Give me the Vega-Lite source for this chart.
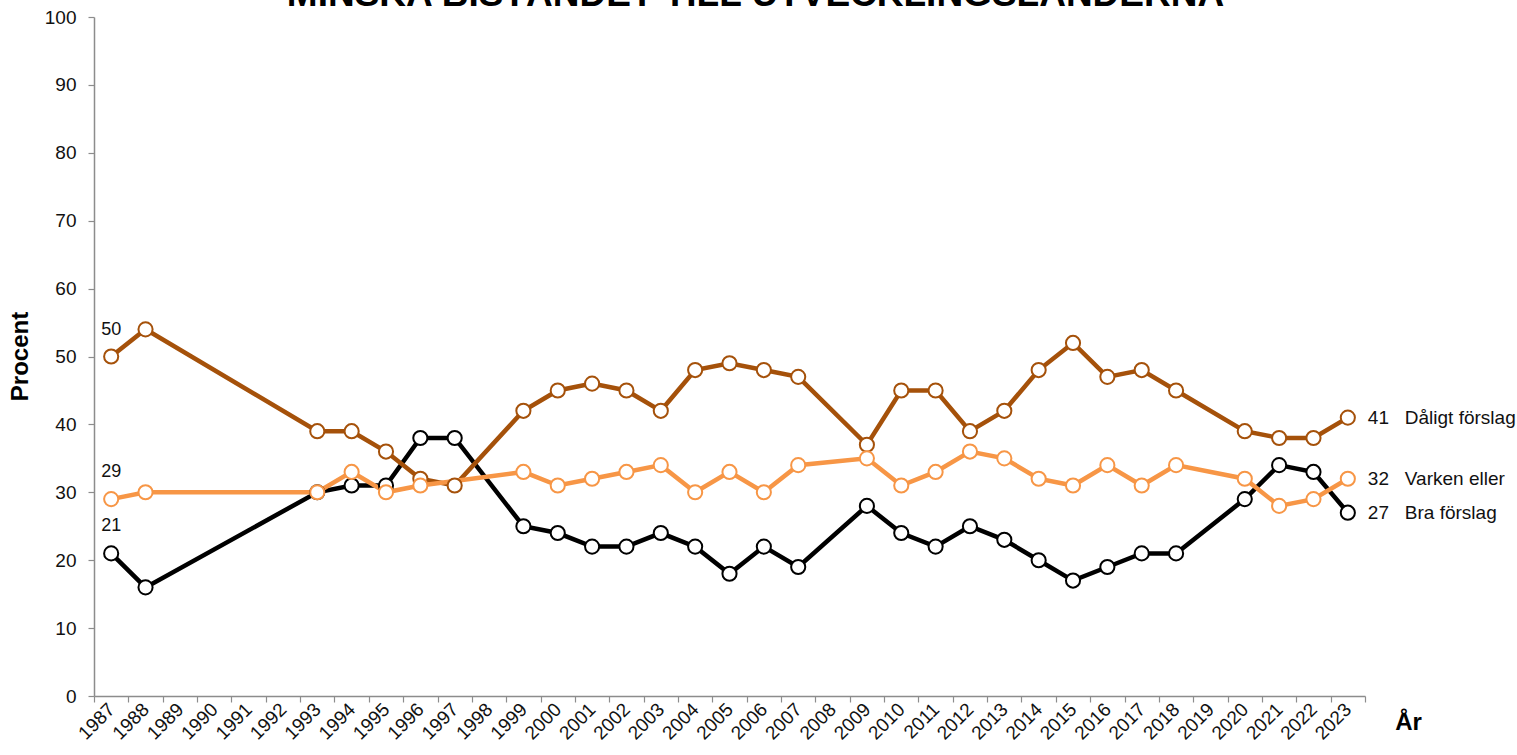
{
  "$schema": "https://vega.github.io/schema/vega-lite/v6.json",
  "width": 1271,
  "height": 679,
  "autosize": {"type": "none"},
  "padding": {"left": 94, "top": 17, "right": 152, "bottom": 59},
  "background": "white",
  "config": {
    "view": {"stroke": null},
    "font": "Liberation Sans",
    "axis": {"grid": false, "domainColor": "#8c8c8c", "tickColor": "#8c8c8c", "domainWidth": 1.5, "tickWidth": 1.2, "labelFont": "Liberation Sans", "titleFont": "Liberation Sans", "labelColor": "#111", "titleColor": "#000"}
  },
  "title": {
    "text": "MINSKA BISTÅNDET TILL UTVECKLINGSLÄNDERNA",
    "font": "Liberation Sans",
    "fontSize": 37,
    "fontWeight": "bold",
    "color": "#000",
    "anchor": "middle",
    "frame": "group",
    "baseline": "alphabetic",
    "offset": -35,
    "dx": 26
  },
  "datasets": {
    "main": [
      {"series": "Bra förslag", "year": 1987, "value": 21},
      {"series": "Bra förslag", "year": 1988, "value": 16},
      {"series": "Bra förslag", "year": 1993, "value": 30},
      {"series": "Bra förslag", "year": 1994, "value": 31},
      {"series": "Bra förslag", "year": 1995, "value": 31},
      {"series": "Bra förslag", "year": 1996, "value": 38},
      {"series": "Bra förslag", "year": 1997, "value": 38},
      {"series": "Bra förslag", "year": 1999, "value": 25},
      {"series": "Bra förslag", "year": 2000, "value": 24},
      {"series": "Bra förslag", "year": 2001, "value": 22},
      {"series": "Bra förslag", "year": 2002, "value": 22},
      {"series": "Bra förslag", "year": 2003, "value": 24},
      {"series": "Bra förslag", "year": 2004, "value": 22},
      {"series": "Bra förslag", "year": 2005, "value": 18},
      {"series": "Bra förslag", "year": 2006, "value": 22},
      {"series": "Bra förslag", "year": 2007, "value": 19},
      {"series": "Bra förslag", "year": 2009, "value": 28},
      {"series": "Bra förslag", "year": 2010, "value": 24},
      {"series": "Bra förslag", "year": 2011, "value": 22},
      {"series": "Bra förslag", "year": 2012, "value": 25},
      {"series": "Bra förslag", "year": 2013, "value": 23},
      {"series": "Bra förslag", "year": 2014, "value": 20},
      {"series": "Bra förslag", "year": 2015, "value": 17},
      {"series": "Bra förslag", "year": 2016, "value": 19},
      {"series": "Bra förslag", "year": 2017, "value": 21},
      {"series": "Bra förslag", "year": 2018, "value": 21},
      {"series": "Bra förslag", "year": 2020, "value": 29},
      {"series": "Bra förslag", "year": 2021, "value": 34},
      {"series": "Bra förslag", "year": 2022, "value": 33},
      {"series": "Bra förslag", "year": 2023, "value": 27},
      {"series": "Dåligt förslag", "year": 1987, "value": 50},
      {"series": "Dåligt förslag", "year": 1988, "value": 54},
      {"series": "Dåligt förslag", "year": 1993, "value": 39},
      {"series": "Dåligt förslag", "year": 1994, "value": 39},
      {"series": "Dåligt förslag", "year": 1995, "value": 36},
      {"series": "Dåligt förslag", "year": 1996, "value": 32},
      {"series": "Dåligt förslag", "year": 1997, "value": 31},
      {"series": "Dåligt förslag", "year": 1999, "value": 42},
      {"series": "Dåligt förslag", "year": 2000, "value": 45},
      {"series": "Dåligt förslag", "year": 2001, "value": 46},
      {"series": "Dåligt förslag", "year": 2002, "value": 45},
      {"series": "Dåligt förslag", "year": 2003, "value": 42},
      {"series": "Dåligt förslag", "year": 2004, "value": 48},
      {"series": "Dåligt förslag", "year": 2005, "value": 49},
      {"series": "Dåligt förslag", "year": 2006, "value": 48},
      {"series": "Dåligt förslag", "year": 2007, "value": 47},
      {"series": "Dåligt förslag", "year": 2009, "value": 37},
      {"series": "Dåligt förslag", "year": 2010, "value": 45},
      {"series": "Dåligt förslag", "year": 2011, "value": 45},
      {"series": "Dåligt förslag", "year": 2012, "value": 39},
      {"series": "Dåligt förslag", "year": 2013, "value": 42},
      {"series": "Dåligt förslag", "year": 2014, "value": 48},
      {"series": "Dåligt förslag", "year": 2015, "value": 52},
      {"series": "Dåligt förslag", "year": 2016, "value": 47},
      {"series": "Dåligt förslag", "year": 2017, "value": 48},
      {"series": "Dåligt förslag", "year": 2018, "value": 45},
      {"series": "Dåligt förslag", "year": 2020, "value": 39},
      {"series": "Dåligt förslag", "year": 2021, "value": 38},
      {"series": "Dåligt förslag", "year": 2022, "value": 38},
      {"series": "Dåligt förslag", "year": 2023, "value": 41},
      {"series": "Varken eller", "year": 1987, "value": 29},
      {"series": "Varken eller", "year": 1988, "value": 30},
      {"series": "Varken eller", "year": 1993, "value": 30},
      {"series": "Varken eller", "year": 1994, "value": 33},
      {"series": "Varken eller", "year": 1995, "value": 30},
      {"series": "Varken eller", "year": 1996, "value": 31},
      {"series": "Varken eller", "year": 1999, "value": 33},
      {"series": "Varken eller", "year": 2000, "value": 31},
      {"series": "Varken eller", "year": 2001, "value": 32},
      {"series": "Varken eller", "year": 2002, "value": 33},
      {"series": "Varken eller", "year": 2003, "value": 34},
      {"series": "Varken eller", "year": 2004, "value": 30},
      {"series": "Varken eller", "year": 2005, "value": 33},
      {"series": "Varken eller", "year": 2006, "value": 30},
      {"series": "Varken eller", "year": 2007, "value": 34},
      {"series": "Varken eller", "year": 2009, "value": 35},
      {"series": "Varken eller", "year": 2010, "value": 31},
      {"series": "Varken eller", "year": 2011, "value": 33},
      {"series": "Varken eller", "year": 2012, "value": 36},
      {"series": "Varken eller", "year": 2013, "value": 35},
      {"series": "Varken eller", "year": 2014, "value": 32},
      {"series": "Varken eller", "year": 2015, "value": 31},
      {"series": "Varken eller", "year": 2016, "value": 34},
      {"series": "Varken eller", "year": 2017, "value": 31},
      {"series": "Varken eller", "year": 2018, "value": 34},
      {"series": "Varken eller", "year": 2020, "value": 32},
      {"series": "Varken eller", "year": 2021, "value": 28},
      {"series": "Varken eller", "year": 2022, "value": 29},
      {"series": "Varken eller", "year": 2023, "value": 32}
    ]
  },
  "data": {"name": "main"},
  "encoding": {
    "x": {
      "field": "year",
      "type": "ordinal",
      "scale": {"type": "band", "paddingInner": 0, "paddingOuter": 0, "domain": [1987,1988,1989,1990,1991,1992,1993,1994,1995,1996,1997,1998,1999,2000,2001,2002,2003,2004,2005,2006,2007,2008,2009,2010,2011,2012,2013,2014,2015,2016,2017,2018,2019,2020,2021,2022,2023]},
      "axis": {
        "title": "År",
        "titleFontSize": 24,
        "titleFontWeight": "bold",
        "titleX": 1314,
        "titleY": 26,
        "titleAlign": "center",
        "titleBaseline": "middle",
        "labelAngle": -45,
        "labelAlign": "right",
        "labelBaseline": "middle",
        "labelFontSize": 19,
        "labelPadding": 4,
        "tickBand": "extent",
        "tickSize": 6,
        "labelOverlap": false
      }
    },
    "y": {
      "field": "value",
      "type": "quantitative",
      "scale": {"domain": [0, 100], "nice": false},
      "axis": {
        "title": "Procent",
        "titleFontSize": 24,
        "titleFontWeight": "bold",
        "titleX": -74,
        "titleY": 339,
        "titleAngle": -90,
        "titleAlign": "center",
        "titleBaseline": "middle",
        "values": [0,10,20,30,40,50,60,70,80,90,100],
        "labelFontSize": 19,
        "labelPadding": 12,
        "tickSize": 6
      }
    },
    "color": {
      "field": "series",
      "type": "nominal",
      "scale": {"domain": ["Bra förslag", "Dåligt förslag", "Varken eller"], "range": ["#000000", "#A5510A", "#F79646"]},
      "legend": null
    }
  },
  "layer": [
    {"mark": {"type": "line", "strokeWidth": 4.5}},
    {"mark": {"type": "point", "shape": "circle", "filled": false, "fill": "white", "fillOpacity": 1, "opacity": 1, "size": 200, "strokeWidth": 2}},
    {
      "transform": [{"filter": "datum.year == 1987"}],
      "mark": {"type": "text", "dy": -27, "align": "center", "baseline": "middle", "fontSize": 18},
      "encoding": {"text": {"field": "value", "type": "quantitative"}, "color": {"value": "#111"}}
    },
    {
      "transform": [{"filter": "datum.year == 2023"}],
      "mark": {"type": "text", "dx": 20, "align": "left", "baseline": "middle", "fontSize": 19},
      "encoding": {"text": {"field": "value", "type": "quantitative"}, "color": {"value": "#111"}}
    },
    {
      "transform": [{"filter": "datum.year == 2023"}],
      "mark": {"type": "text", "dx": 57, "align": "left", "baseline": "middle", "fontSize": 19},
      "encoding": {"text": {"field": "series", "type": "nominal"}, "color": {"value": "#111"}}
    }
  ]
}
